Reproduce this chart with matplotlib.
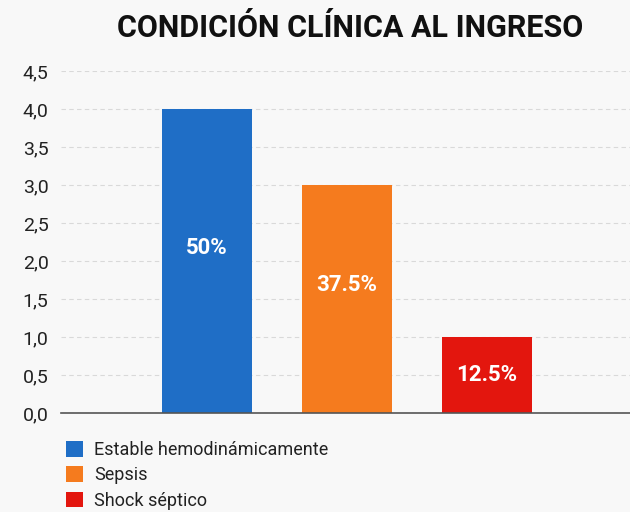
import matplotlib.pyplot as plt
import numpy as np
from matplotlib.patches import Patch
from matplotlib.ticker import FuncFormatter, MultipleLocator

plt.rcParams['font.family'] = ['Roboto', 'DejaVu Sans']

categorias = ['Estable hemodinámicamente', 'Sepsis', 'Shock séptico']
pacientes = [4, 3, 1]
porcentajes = ['50%', '37.5%', '12.5%']
label_y = [2.17, 1.68, 0.5]
colores = ['#1f6ec6', '#f57b1e', '#e3160e']
bg = '#f8f8f8'

fig = plt.figure(figsize=(6.3, 5.12), dpi=100, facecolor=bg)
ax = fig.add_axes([61 / 630, 1 - 413 / 512, 569 / 630, 342 / 512], facecolor=bg)

x = np.arange(len(categorias))
ax.bar(x, pacientes, width=0.64, color=colores, zorder=3)
for xi, txt, yl in zip(x, porcentajes, label_y):
    ax.text(xi, yl, txt, ha='center', va='center', color='white',
            fontsize=16, fontweight='bold', zorder=4)

ax.set_xlim(-1.04, 3.02)
ax.set_ylim(0, 4.5)
ax.yaxis.set_major_locator(MultipleLocator(0.5))
ax.yaxis.set_major_formatter(FuncFormatter(lambda v, p: f'{v:.1f}'.replace('.', ',')))
ax.set_xticks([])
ax.tick_params(axis='y', length=0, pad=9, labelsize=14, labelcolor='#222222')
ax.grid(axis='y', linestyle=(0, (4, 3)), color='#d9d9d9', linewidth=0.8, zorder=0)
for s in ['top', 'right', 'left']:
    ax.spines[s].set_visible(False)
ax.spines['bottom'].set_color('#555555')
ax.spines['bottom'].set_linewidth(1.2)
ax.spines['bottom'].set_zorder(5)

fig.text(0.555, 1 - 28 / 512, 'CONDICIÓN CLÍNICA AL INGRESO', ha='center', va='center',
         fontsize=22, fontweight='bold', color='#111111')

handles = [Patch(facecolor=c, edgecolor='none') for c in colores]
fig.legend(handles, categorias, loc='upper left', bbox_to_anchor=(59 / 630, 1 - 434 / 512),
           frameon=False, fontsize=13, handlelength=0.95, handleheight=0.95,
           handletextpad=0.6, labelspacing=0.4, borderaxespad=0, labelcolor='#222222')

fig.savefig('out.png', dpi=100, facecolor=bg)
